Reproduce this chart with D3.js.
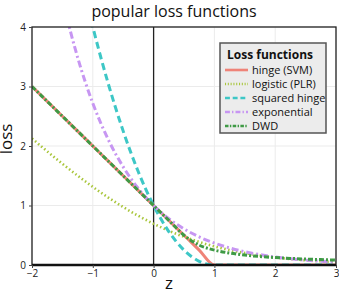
<!DOCTYPE html>
<html>
<head>
<meta charset="utf-8">
<script src="https://cdn.jsdelivr.net/npm/d3@7"></script>
<style>
	html, body { margin: 0; padding: 0; background: #fff; overflow: hidden; }
	svg { display: block; }
	svg text { font-family: "Open Sans", "Noto Sans", sans-serif; }
</style>
</head>
<body>
<div id="chart"></div>
<script>
// z values where each loss was read
const zValues = [-2, -1.75, -1.5, -1.25, -1, -0.75, -0.5, -0.25, 0, 0.25, 0.5, 0.75, 1, 1.25, 1.5, 1.75, 2, 2.25, 2.5, 2.75, 3];

const hingeLoss = [3, 2.75, 2.5, 2.25, 2, 1.75, 1.5, 1.25, 1, 0.75, 0.5, 0.25, 0, 0, 0, 0, 0, 0, 0, 0, 0];
const logisticLoss = [2.127, 1.91, 1.701, 1.502, 1.313, 1.137, 0.974, 0.826, 0.693, 0.576, 0.474, 0.387, 0.313, 0.252, 0.201, 0.16, 0.127, 0.1, 0.079, 0.062, 0.049];
const squaredHingeLoss = [9, 7.5625, 6.25, 5.0625, 4, 3.0625, 2.25, 1.5625, 1, 0.5625, 0.25, 0.0625, 0, 0, 0, 0, 0, 0, 0, 0, 0];
const exponentialLoss = [7.389, 5.755, 4.482, 3.49, 2.718, 2.117, 1.649, 1.284, 1, 0.779, 0.607, 0.472, 0.368, 0.287, 0.223, 0.174, 0.135, 0.105, 0.082, 0.064, 0.05];
const dwdLoss = [3, 2.75, 2.5, 2.25, 2, 1.75, 1.5, 1.25, 1, 0.75, 0.5, 0.333, 0.25, 0.2, 0.167, 0.143, 0.125, 0.111, 0.1, 0.091, 0.083];

const seriesNames = ["hinge (SVM)", "logistic (PLR)", "squared hinge", "exponential", "DWD"];
const xTicks = [-2, -1, 0, 1, 2, 3];
const yTicks = [0, 1, 2, 3, 4];

// General Variables
const width = 339, height = 292;
const margin = { top: 27, right: 3, left: 32, bottom: 27 };
const innerWidth = width - margin.left - margin.right;
const innerHeight = height - margin.top - margin.bottom;

let svg = d3.select("#chart").append("svg")
	.attr("width", width)
	.attr("height", height);

const g = svg.append("g")
	.attr("transform", "translate(" + margin.left + "," + margin.top + ")");

let x = d3.scaleLinear().domain([-2, 3]).range([0, innerWidth]);
let y = d3.scaleLinear().domain([0, 4]).range([innerHeight, 0]);

// grid
g.append("g").selectAll("line").data(xTicks).enter().append("line")
	.attr("x1", d => x(d)).attr("x2", d => x(d))
	.attr("y1", 0).attr("y2", innerHeight)
	.attr("stroke", "#ebebeb").attr("stroke-width", 1);
g.append("g").selectAll("line").data(yTicks).enter().append("line")
	.attr("y1", d => y(d)).attr("y2", d => y(d))
	.attr("x1", 0).attr("x2", innerWidth)
	.attr("stroke", "#ebebeb").attr("stroke-width", 1);

// zero line
g.append("line")
	.attr("x1", x(0)).attr("x2", x(0))
	.attr("y1", 0).attr("y2", innerHeight)
	.attr("stroke", "#222").attr("stroke-width", 1.3);

// series
const series = [
	{ name: seriesNames[0], values: hingeLoss, color: "#ef8378", dash: null, width: 3 },
	{ name: seriesNames[1], values: logisticLoss, color: "#a9c63c", dash: "1.5,2.5", width: 2.6 },
	{ name: seriesNames[2], values: squaredHingeLoss, color: "#3dc7c6", dash: "7,4", width: 3 },
	{ name: seriesNames[3], values: exponentialLoss, color: "#c796f2", dash: "7,3,2,3", width: 3 },
	{ name: seriesNames[4], values: dwdLoss, color: "#3f9a45", dash: "5,2,2,2", width: 3 }
];

svg.append("defs").append("clipPath").attr("id", "plotclip")
	.append("rect").attr("width", innerWidth).attr("height", innerHeight);

let line = d3.line()
	.x((d, i) => x(zValues[i]))
	.y(d => y(d))
	.curve(d3.curveMonotoneX);

g.append("g").attr("clip-path", "url(#plotclip)")
	.selectAll("path").data(series).enter().append("path")
	.attr("d", d => line(d.values))
	.attr("fill", "none")
	.attr("stroke", d => d.color)
	.attr("stroke-width", d => d.width)
	.attr("stroke-dasharray", d => d.dash);

// frame
g.append("rect")
	.attr("width", innerWidth).attr("height", innerHeight)
	.attr("fill", "none").attr("stroke", "#222").attr("stroke-width", 1.3);
g.append("line")
	.attr("x1", 0).attr("x2", innerWidth)
	.attr("y1", innerHeight).attr("y2", innerHeight)
	.attr("stroke", "#111").attr("stroke-width", 2.5);

// Axes
const fmt = d => d < 0 ? "\u2212" + Math.abs(d) : "" + d;
let xAxis = g.append("g")
	.attr("transform", "translate(0," + innerHeight + ")")
	.call(d3.axisBottom(x).tickValues(xTicks).tickFormat(fmt).tickSize(3).tickPadding(2));
let yAxis = g.append("g")
	.call(d3.axisLeft(y).tickValues(yTicks).tickFormat(fmt).tickSize(3));
[xAxis, yAxis].forEach(a => {
	a.select(".domain").remove();
	a.selectAll("text").attr("fill", "#222").style("font-size", "10px");
	a.selectAll("line").attr("stroke", "#444");
});

// labels
svg.append("text")
	.attr("x", 174).attr("y", 17)
	.attr("text-anchor", "middle")
	.style("font-size", "16px").attr("fill", "#111")
	.text("popular loss functions");
svg.append("text")
	.attr("x", 169).attr("y", 289)
	.attr("text-anchor", "middle")
	.style("font-size", "17px").attr("fill", "#111")
	.text("z");
svg.append("text")
	.attr("transform", "translate(12,139) rotate(-90)")
	.attr("text-anchor", "middle")
	.style("font-size", "17px").attr("fill", "#111")
	.text("loss");

// Legend
const legend = svg.append("g").attr("transform", "translate(220,43)");
legend.append("rect")
	.attr("width", 106).attr("height", 90)
	.attr("fill", "#ececec").attr("stroke", "#555").attr("stroke-width", 1.5);
legend.append("text")
	.attr("x", 7).attr("y", 16)
	.style("font-size", "12px").style("font-weight", "bold").attr("fill", "#111")
	.text("Loss functions");
let rows = legend.selectAll(".row").data(series).enter().append("g")
	.attr("class", "row")
	.attr("transform", (d, i) => "translate(0," + (27 + i * 14) + ")");
rows.append("line")
	.attr("x1", 5).attr("x2", 28)
	.attr("stroke", d => d.color)
	.attr("stroke-width", 2.6)
	.attr("stroke-dasharray", d => d.dash ? d.dash.split(",").map(v => v * 0.7).join(",") : null);
rows.append("text")
	.attr("x", 32).attr("y", 4)
	.style("font-size", "11px").attr("fill", "#111")
	.text(d => d.name);
</script>
</body>
</html>
